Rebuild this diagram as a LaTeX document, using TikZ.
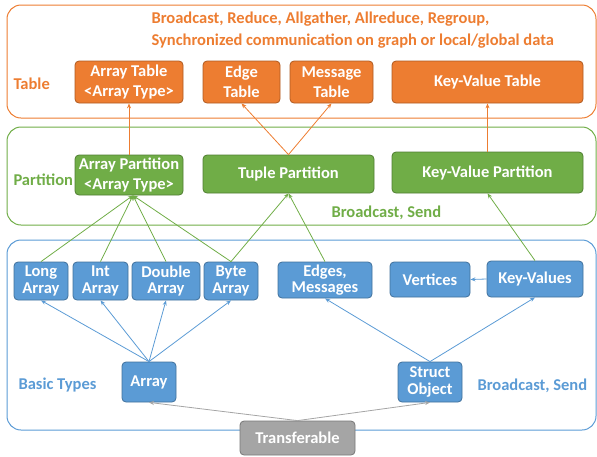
\documentclass[tikz,border=0pt]{standalone}
\usepackage{fontspec}
\setmainfont{Carlito}
\usetikzlibrary{arrows.meta}
\definecolor{orfill}{HTML}{ED7D31}
\definecolor{ordraw}{HTML}{AE5A21}
\definecolor{grfill}{HTML}{70AD47}
\definecolor{grdraw}{HTML}{507E32}
\definecolor{blfill}{HTML}{5B9BD5}
\definecolor{bldraw}{HTML}{41719C}
\definecolor{gyfill}{HTML}{A5A5A5}
\definecolor{gydraw}{HTML}{787878}
\tikzset{
  lbl/.style={font=\fontsize{16.5}{22}\selectfont\bfseries},
  box/.style={rectangle, rounded corners=4pt, line width=0.8pt, text=white,
    align=center, inner sep=0pt, font=\fontsize{16.5}{20}\selectfont\bfseries},
  obox/.style={box, draw=ordraw, fill=orfill},
  gbox/.style={box, draw=grdraw, fill=grfill},
  bbox/.style={box, draw=bldraw, fill=blfill, font=\fontsize{16.5}{16.5}\selectfont\bfseries},
  ybox/.style={box, draw=gydraw, fill=gyfill},
  frame/.style={rectangle, rounded corners=14pt, line width=1pt, inner sep=0pt},
  sz/.style 2 args={minimum width=#1, minimum height=#2},
  link/.style={-{Stealth[length=5pt,width=4pt]}, line width=0.8pt},
}
\begin{document}
\begin{tikzpicture}[x=1pt,y=-1pt]
\useasboundingbox (0,0) rectangle (597,456);

% layer frames
\node[frame, draw=orfill, sz={589pt}{113pt}] (tframe) at (301.5,61.5) {};
\node[frame, draw=grfill, sz={589pt}{98pt}] (pframe) at (301.5,176) {};
\node[frame, draw=blfill, sz={589pt}{190pt}] (bframe) at (301.5,335) {};

% table layer
\node[lbl, text=orfill, align=left, anchor=west] (ttitle) at (148,30)
  {Broadcast, Reduce, Allgather, Allreduce, Regroup,\\Synchronized communication on graph or local/global data};
\node[lbl, text=orfill, anchor=west] (tlabel) at (10,84) {Table};
\node[obox, sz={108pt}{42pt}] (atable) at (129,82) {Array Table\\<Array Type>};
\node[obox, sz={77pt}{42pt}] (etable) at (241.5,82) {Edge\\Table};
\node[obox, sz={83pt}{42pt}] (mtable) at (331.5,82) {Message\\Table};
\node[obox, sz={191pt}{42pt}] (kvtable) at (487.5,82) {Key-Value Table};

% partition layer
\node[lbl, text=grfill, anchor=west] (plabel) at (10,180) {Partition};
\node[gbox, sz={108pt}{40pt}] (apart) at (129,175) {Array Partition\\<Array Type>};
\node[gbox, sz={171pt}{38pt}] (tpart) at (288.5,174) {Tuple Partition};
\node[gbox, sz={191pt}{41pt}] (kvpart) at (487.5,172.5) {Key-Value Partition};
\node[lbl, text=grfill, anchor=west] (psend) at (328,213) {Broadcast, Send};

% basic types layer
\node[bbox, sz={54pt}{38pt}] (long) at (41,281) {Long\\Array};
\node[bbox, sz={55pt}{38pt}] (int) at (100.5,281) {Int\\Array};
\node[bbox, sz={68pt}{38pt}] (double) at (166,281) {Double\\Array};
\node[bbox, sz={54pt}{38pt}] (byte) at (231,281) {Byte\\Array};
\node[bbox, sz={94pt}{36pt}] (edges) at (325,280) {Edges,\\Messages};
\node[bbox, sz={80pt}{35pt}] (vert) at (430,279.5) {Vertices};
\node[bbox, sz={96pt}{36pt}] (kv) at (535,279) {Key-Values};
\node[bbox, sz={54pt}{40pt}] (array) at (149,382) {Array};
\node[bbox, sz={64pt}{40pt}] (struct) at (430,382) {Struct\\Object};
\node[lbl, text=blfill, anchor=west] (blabel) at (15,385) {Basic Types};
\node[lbl, text=blfill, anchor=west] (bsend) at (474,386) {Broadcast, Send};
\node[ybox, sz={115pt}{34pt}] (transf) at (297.5,438) {Transferable};

% partition -> table
\draw[link, orfill] (apart.north) -- (atable.south);
\draw[link, orfill] (tpart.north) -- (etable.south);
\draw[link, orfill] (tpart.north) -- (mtable.south);
\draw[link, orfill] (kvpart.north) -- (kvtable.south);

% basic types -> partition
\coordinate (apin) at ([xshift=4pt]apart.south);
\draw[link, grfill] (long.north) -- (apin);
\draw[link, grfill] (int.north) -- (apin);
\draw[link, grfill] (double.north) -- (apin);
\draw[link, grfill] (byte.north) -- (apin);
\draw[link, grfill] (byte.north) -- (tpart.south);
\draw[link, grfill] (edges.north) -- (tpart.south);
\draw[link, grfill] (kv.north) -- (kvpart.south);

% inside basic types
\draw[link, blfill] (kv.west) -- (vert.east);
\draw[link, blfill] (array.north) -- (long.south);
\draw[link, blfill] (array.north) -- (int.south);
\draw[link, blfill] (array.north) -- (double.south);
\draw[link, blfill] (array.north) -- (byte.south);
\draw[link, blfill] (struct.north) -- (edges.south);
\draw[link, blfill] (struct.north) -- (kv.south);

% transferable
\draw[link, gyfill] (transf.north) -- (array.south);
\draw[link, gyfill] (transf.north) -- (struct.south);
\end{tikzpicture}
\end{document}
